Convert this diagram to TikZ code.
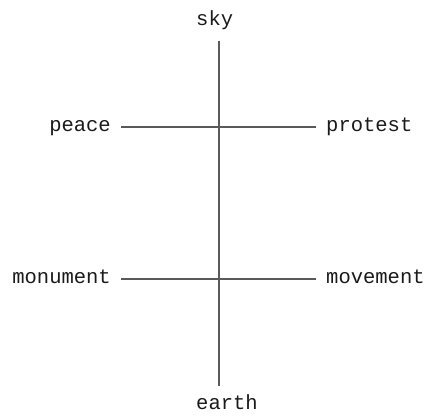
\documentclass[tikz,border=0pt]{standalone}
\usepackage{fontspec}
\newfontfamily\labelmono{Liberation Mono}
\usepackage{tikz}
\usetikzlibrary{positioning, calc}

\definecolor{axisgray}{HTML}{5A5A5A}
\definecolor{labeltext}{HTML}{1A1A1A}

\begin{document}
\begin{tikzpicture}[
    x=1pt, y=-1pt,
    word/.style ={inner sep=0pt, text height=9pt, text depth=0pt, text=labeltext,
                  font=\fontsize{20.5}{24}\selectfont\labelmono},
    axis/.style ={draw=axisgray, line width=2pt},
]
\useasboundingbox (0,0) rectangle (432,418);

% vertical axis
\coordinate (top) at (218.5,41);
\coordinate (bot) at (218.5,386);
\node[word, anchor=base west] (sky)   at (196,25)  {sky};
\node[word, anchor=base west] (earth) at (196,409) {earth};

% the two cross bars
\node[word, anchor=east] (peace)    at (111,127) {peace};
\node[word, anchor=west] (protest)  at (326,127) {protest};
\node[word, anchor=east] (monument) at (111,279) {monument};
\node[word, anchor=west] (movement) at (326,279) {movement};

\draw[axis] (top) -- (bot);
\draw[axis, shorten <=10pt, shorten >=10pt] (peace) -- (protest);
\draw[axis, shorten <=10pt, shorten >=10pt] (monument) -- (movement);

\end{tikzpicture}
\end{document}
